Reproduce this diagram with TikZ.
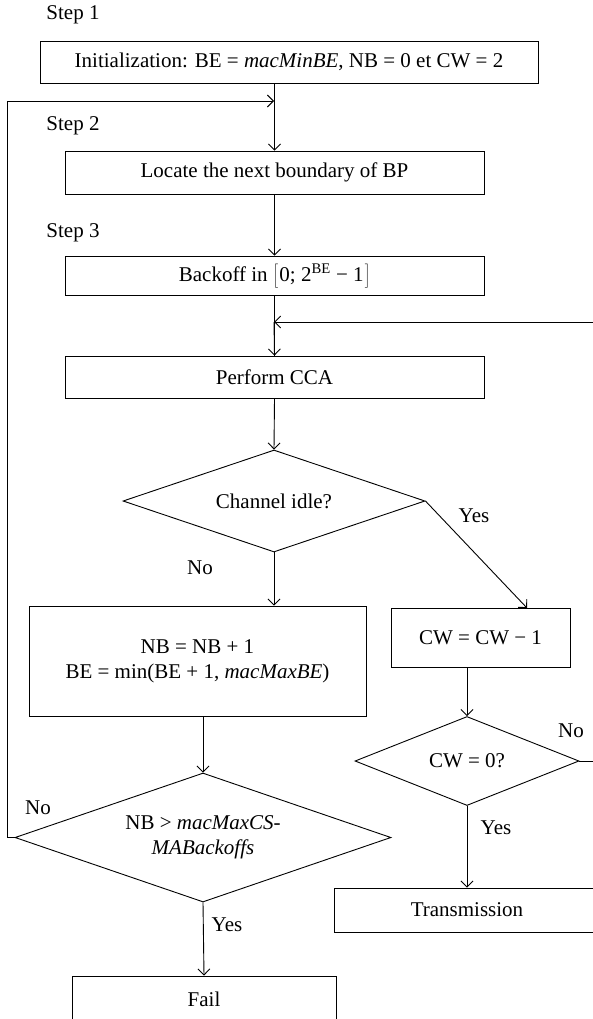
\documentclass[tikz,border=0pt]{standalone}
\usepackage{fontspec}
\setmainfont{Liberation Serif}
\usetikzlibrary{arrows.meta,shapes.geometric}
\begin{document}
\begin{tikzpicture}[x=1pt,y=-1pt,
  font=\fontsize{21}{25}\selectfont,
  line width=0.9pt,
  box/.style={draw,rectangle,inner sep=0pt,align=center},
  dia/.style={draw,diamond,inner sep=0pt,align=center,aspect=2},
  arr/.style={-{Straight Barb[length=6pt,width=12pt,line width=0.9pt]}},
  lbl/.style={inner sep=0pt}]
\useasboundingbox (0,0) rectangle (593,1019);

% step labels
\node[lbl,anchor=west] (s1) at (46,15) {Step 1};
\node[lbl,anchor=west] (s2) at (46,126) {Step 2};
\node[lbl,anchor=west] (s3) at (46,233) {Step 3};

% boxes
\node[box,minimum width=498pt,minimum height=42pt] (init) at (289,62)
  {Initialization: BE = \textit{macMinBE}, NB = 0 et CW = 2};
\node[box,minimum width=419pt,minimum height=43pt] (locate) at (274.5,172.5)
  {Locate the next boundary of BP};
\node[box,minimum width=419pt,minimum height=39pt] (backoff) at (274.5,275.5)
  {Backoff in $\left[\rule[-6pt]{0pt}{24pt}\right.$0; 2\textsuperscript{BE} − 1$\left.\rule[-6pt]{0pt}{24pt}\right]$};
\node[box,minimum width=419pt,minimum height=42pt] (cca) at (274.5,377)
  {Perform CCA};
\node[dia,minimum width=302pt,minimum height=102pt] (idle) at (274,501)
  {Channel idle?};
\node[box,minimum width=337pt,minimum height=110pt] (nbbox) at (197.5,661)
  {NB = NB + 1\\BE = min(BE + 1, \textit{macMaxBE})};
\node[box,minimum width=179pt,minimum height=59pt] (cwbox) at (480.5,637.5)
  {CW = CW − 1};
\node[dia,minimum width=224pt,minimum height=89pt] (cw0) at (467,761)
  {CW = 0?};
\node[dia,minimum width=376pt,minimum height=129pt] (nbdia) at (203,837.5)
  {NB > \textit{macMaxCS-}\\\textit{MABackoffs}};
\node[box,minimum width=266pt,minimum height=44pt] (trans) at (467,910)
  {Transmission};
\node[box,minimum width=264pt,minimum height=46pt] (fail) at (204,999)
  {Fail};

% edge labels
\node[lbl] (yes1) at (474,516) {Yes};
\node[lbl] (no1) at (200,568) {No};
\node[lbl] (no2) at (571,731) {No};
\node[lbl] (yes2) at (496,828) {Yes};
\node[lbl] (no3) at (38,808) {No};
\node[lbl] (yes3) at (227,925) {Yes};

% helper coordinates
\coordinate (loopin) at (274,101);
\coordinate (fbin) at (274,322);
\coordinate (cwin) at (527,608);

% connectors
\draw[arr] (locate.north |- init.south) -- (locate.north);
\draw[arr] (nbdia.west) -- ++(-7,0) |- (loopin);
\draw[arr] (locate.south) -- (backoff.north);
\draw (backoff.south) -- (cca.north);
\draw[arr] (cw0.east) -- ++(40,0) |- (fbin);
\draw[arr] (fbin) -- (cca.north);
\draw[arr] (cca.south) -- (idle.north);
\draw[arr] (idle.south) -- (idle.south |- nbbox.north);
\draw[arr] (idle.east) -- (cwin);
\draw[arr] (cw0.north |- cwbox.south) -- (cw0.north);
\draw[arr] (nbdia.north |- nbbox.south) -- (nbdia.north);
\draw[arr] (nbdia.south) -- (fail.north);
\draw[arr] (cw0.south) -- (trans.north);
\end{tikzpicture}
\end{document}
